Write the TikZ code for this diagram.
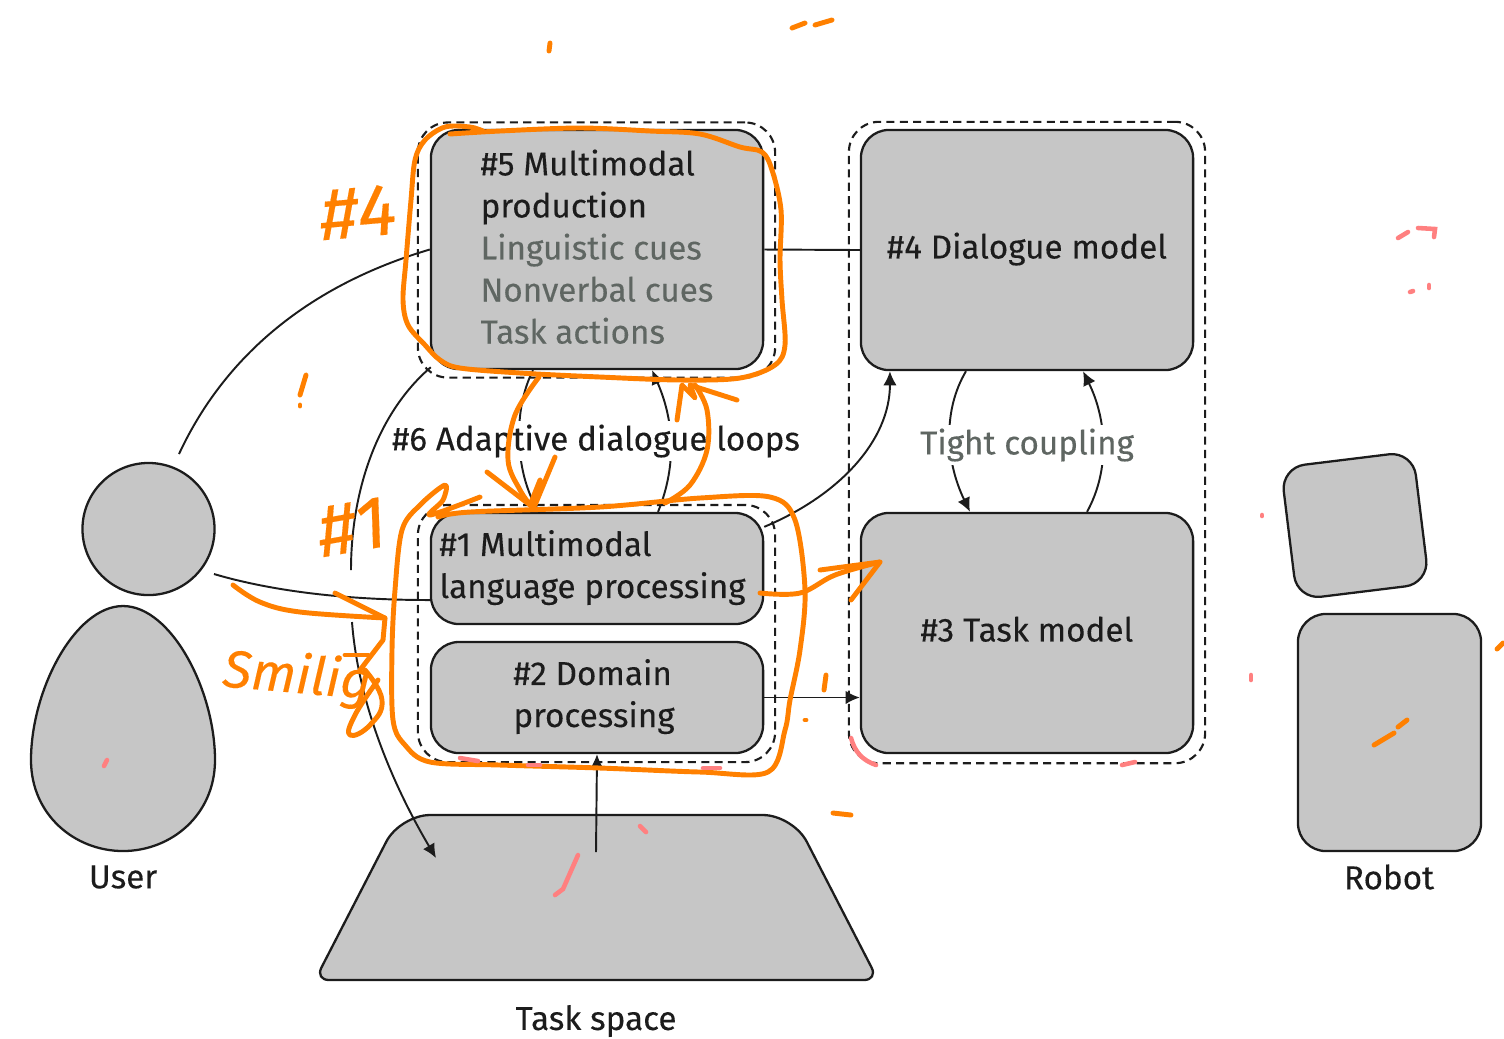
\documentclass[tikz,border=0pt]{standalone}
\usepackage{fontspec}
\setmainfont{Fira Sans}[FakeBold=0.2]
\usetikzlibrary{arrows.meta,shapes,calc,backgrounds}
\usepackage{xcolor}
\definecolor{boxgray}{HTML}{C6C6C6}
\definecolor{inkdark}{HTML}{1C1C1C}
\definecolor{cuegray}{HTML}{5F6662}
\definecolor{penorange}{HTML}{FF8000}
\definecolor{penred}{HTML}{FF8080}
\tikzset{
  modelbox/.style={draw=inkdark,fill=boxgray,line width=0.65pt,rounded corners=0.28cm,inner sep=0pt,
    minimum width=3.32cm,text=inkdark,font=\fontsize{9.45}{11.95}\selectfont},
  groupbox/.style={draw=inkdark,dash pattern=on 2.3pt off 1.5pt,line width=0.6pt,rounded corners=0.3cm,inner sep=0pt},
  bodyshape/.style={draw=inkdark,fill=boxgray,line width=0.65pt},
  link/.style={draw=inkdark,line width=0.55pt},
  linkarrow/.style={link,-{Latex[length=4pt,width=3.8pt]}},
  caption/.style={text=inkdark,inner sep=1pt,font=\fontsize{9.45}{11.95}\selectfont},
  penline/.style={draw=penorange,line width=1.4pt,line cap=round,line join=round},
  redline/.style={draw=penred,line width=1.3pt,line cap=round},
  pentext/.style={text=penorange,inner sep=0pt,font=\fontsize{21}{21}\selectfont\itshape}
}
\begin{document}
\begin{tikzpicture}[x=0.01cm,y=-0.01cm]

\useasboundingbox (0,0) rectangle (1504,1038);

\node[groupbox,minimum width=3.57cm,minimum height=2.55cm] (prodgroup) at (596.5,250) {};
\node[groupbox,minimum width=3.57cm,minimum height=2.57cm] (langgroup) at (596.5,633.5) {};
\node[groupbox,minimum width=3.56cm,minimum height=6.41cm] (modelgroup) at (1027,442.5) {};

\node[modelbox,minimum height=2.39cm,align=left,text depth=0.06cm] (prodbox) at (597,249.5)
{\#5 Multimodal \\ production \\ \textcolor{cuegray}{Linguistic cues} \\ \textcolor{cuegray}{Nonverbal cues} \\ \textcolor{cuegray}{Task actions}};
\node[modelbox,minimum height=2.40cm,text depth=0.09cm] (dlgbox) at (1027,250) {\#4 Dialogue model};
\node[modelbox,minimum height=2.40cm,text depth=0.08cm] (taskbox) at (1027,633) {\#3 Task model};
\node[modelbox,minimum height=1.11cm,align=left,text depth=0.09cm] (langbox) at (597,568.5) {\#1 Multimodal \\ language processing\kern0.09cm};
\node[modelbox,minimum height=1.11cm,align=left,text depth=0.09cm] (domainbox) at (597,697.5) {\#2 Domain \\ processing\kern0.06cm};

% user
\node[bodyshape,circle,minimum size=1.32cm,inner sep=0pt] (userhead) at (148.5,529) {};
\draw[bodyshape] (123,606) .. controls (75,606) and (31,690) .. (31,760)
  .. controls (31,815) and (75,851) .. (123,851)
  .. controls (171,851) and (215,815) .. (215,760)
  .. controls (215,690) and (171,606) .. (123,606);
\node[caption] (userlabel) at (123,877) {User};

% robot
\node[bodyshape,rectangle,rounded corners=0.24cm,minimum size=1.33cm,inner sep=0pt,rotate=7] (robothead) at (1355,525.5) {};
\node[bodyshape,rectangle,rounded corners=0.28cm,minimum width=1.83cm,minimum height=2.37cm,inner sep=0pt] (robotbody) at (1389.5,732.5) {};
\node[caption] (robotlabel) at (1389,877) {Robot};

% task space
\draw[bodyshape,rounded corners=0.3cm] (400,815) -- (793,815) [rounded corners=0.14cm] -- (878,980) -- (315,980) [rounded corners=0.3cm] -- cycle;
\coordinate (spacein) at (596,852);
\coordinate (spaceend) at (436,858);
\node[caption] (spacelabel) at (596,1021) {Task space};

% connectors
\coordinate (userupper) at (179,454);
\coordinate (userlower) at (214,574);
\coordinate (hopa) at (351,570);
\coordinate (hopb) at (352,622);
\draw[link] (prodbox.west) .. controls (310,285) and (225,355) .. (userupper);
\draw[link] (userlower) .. controls (275,592) and (350,600) .. ([yshift=-0.315cm]langbox.west);
\draw[link] (prodbox.south west) ++(1,-3) .. controls (375,415) and (351,495) .. (hopa);
\draw[linkarrow] (hopb) .. controls (358,700) and (390,780) .. (spaceend);
\draw[link] (prodbox.east) -- (dlgbox.west);
\draw[linkarrow] (domainbox.east) -- (domainbox.east -| taskbox.west);
\draw[linkarrow] (spacein) -- (domainbox.south);
\draw[linkarrow] ([yshift=-0.15cm]langbox.north east) .. controls (840,495) and (890,440) .. ([xshift=-1.37cm]dlgbox.south);
\draw[linkarrow] ([xshift=-0.64cm]prodbox.south) .. controls (513,410) and (516,465) .. ([xshift=-0.59cm]langbox.north);
\draw[linkarrow] ([xshift=0.61cm]langbox.north) .. controls (677,465) and (674,420) .. ([xshift=0.55cm]prodbox.south);
\draw[linkarrow] ([xshift=-0.61cm]dlgbox.south) .. controls (943,410) and (945,460) .. ([xshift=-0.57cm]taskbox.north);
\draw[linkarrow] ([xshift=0.60cm]taskbox.north) .. controls (1110,470) and (1107,420) .. ([xshift=0.56cm]dlgbox.south);

\node[caption,fill=white] (loopslabel) at (596,441) {\#6 Adaptive dialogue loops};
\node[caption,fill=white,text=cuegray] (tightlabel) at (1027,445) {Tight coupling};

% pen marks
\draw[penline] plot[smooth,tension=0.55] coordinates {(483,131) (470,127) (445,127) (425,140) (415,160) (411,200) (406,260) (403,300) (408,325) (425,345) (440,360) (460,368) (520,373) (600,377) (680,380) (740,378) (775,365) (785,345) (782,300) (780,260) (781,210) (772,170) (762,152) (740,147) (700,134) (650,131) (580,128) (500,131) (450,134)};
\draw[penline] plot[smooth,tension=0.55] coordinates {(438,517) (470,512) (600,507) (700,498) (770,497) (795,520) (805,590) (800,650) (790,700) (785,730) (768,772) (700,772) (600,768) (500,765) (430,762) (405,745) (393,720) (392,650) (395,590) (402,530) (420,505) (445,485) (443,500) (430,515) (480,497)};
\draw[penline] plot[smooth,tension=0.6] coordinates {(539,377) (515,415) (508,460) (520,490) (532,507)};
\draw[penline] (487,472) -- (530,505) -- (540,480) -- (535,505) -- (555,457);
\draw[penline] plot[smooth,tension=0.6] coordinates {(665,503) (690,485) (707,450) (707,410) (695,385)};
\draw[penline] (677,420) -- (682,385) -- (695,398) -- (690,385) -- (737,400);
\draw[penline] plot[smooth,tension=0.6] coordinates {(233,585) (260,602) (300,612) (385,618)};
\draw[penline] (335,593) -- (385,618) -- (383,640) -- (360,670);
\draw[penline] (345,655) -- (368,655);
\draw[penline] plot[smooth,tension=0.8] coordinates {(365,670) (382,700) (370,725) (350,735) (355,715) (378,680)};
\draw[penline] plot[smooth,tension=0.6] coordinates {(760,593) (800,593) (835,575) (880,562)};
\draw[penline] (820,570) -- (880,562) -- (851,600);
\node[pentext,rotate=5] (handfour) at (358,212) {\#4};
\node[pentext,rotate=10] (handone) at (352,527) {\#1};
\node[pentext,rotate=-5,font=\fontsize{15}{15}\selectfont\itshape] (handsmile) at (297,678) {Smilig};

\draw[penline] (550,43) -- (549,51);
\draw[penline] (792,28) -- (805,23);
\draw[penline] (815,25) -- (832,20);
\draw[penline] (306,375) -- (300,395);
\draw[penline] (300,405) -- (300,406);
\draw[penline] (826,675) -- (824,690);
\draw[penline] (805,720) -- (806,720);
\draw[penline] (833,813) -- (851,815);
\draw[penline] (1374,745) -- (1394,733);
\draw[penline] (1398,727) -- (1407,720);
\draw[penline] (1497,649) -- (1503,643);
\draw[redline] (1398,238) -- (1408,232);
\draw[redline] (1418,228) -- (1435,229) -- (1434,237);
\draw[redline] (1410,292) -- (1413,291);
\draw[redline] (1429,285) -- (1429,288);
\draw[redline] (1262,515) -- (1262,516);
\draw[redline] (1251,675) -- (1251,680);
\draw[redline] (107,760) -- (104,766);
\draw[redline] (640,826) -- (646,832);
\draw[redline] (578,855) -- (563,889) -- (555,895);
\draw[redline] (851,738) .. controls (855,752) and (862,760) .. (876,765);
\draw[redline] (1122,765) -- (1135,762);
\draw[redline] (460,758) -- (478,761);
\draw[redline] (528,765) -- (540,765);
\draw[redline] (703,768) -- (720,768);

\end{tikzpicture}
\end{document}
